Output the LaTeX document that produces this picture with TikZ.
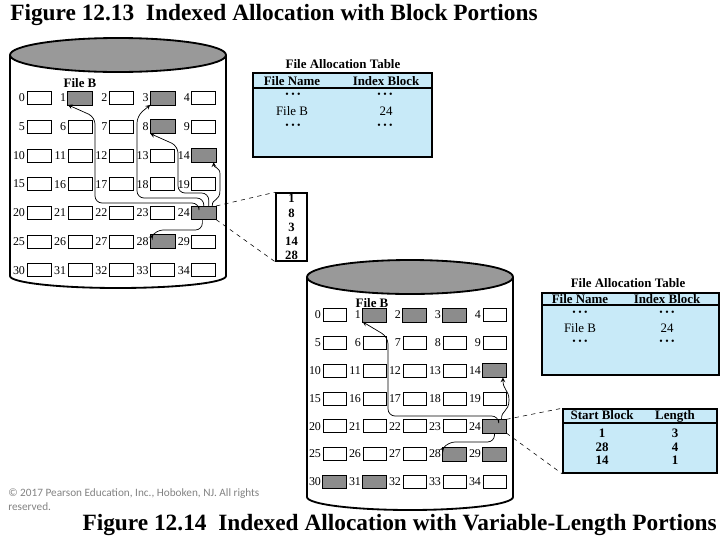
\documentclass[tikz,border=0pt]{standalone}
\usepackage{fontspec}
\setmainfont{Liberation Serif}
\newfontfamily\notefont{Carlito}
\usepackage{xcolor}
\usepackage{tikz}
\usetikzlibrary{arrows}

\definecolor{diskgray}{RGB}{153,153,153}
\definecolor{usedgray}{RGB}{140,140,140}
\definecolor{fatblue}{RGB}{200,234,248}
\definecolor{notegray}{RGB}{130,130,130}

\begin{document}
\begin{tikzpicture}[x=0.025cm, y=-0.025cm,
    side/.style={line width=1.3pt},
    blk/.style={draw, fill=white, line width=0.5pt, minimum width=0.6cm, minimum height=0.325cm, inner sep=0pt},
    blkb/.style={blk, minimum width=0.575cm},
    num/.style={font=\fontsize{8.5}{8.5}\selectfont, inner sep=1pt},
    used/.style={draw, line width=0.5pt, fill=usedgray},
    link/.style={->, >=stealth, line width=0.5pt, rounded corners=5pt},
    fat/.style={draw, line width=1.1pt, fill=fatblue},
    txt/.style={font=\fontsize{9.2}{10}\selectfont, inner sep=0pt, text height=1.5ex, text depth=.25ex},
    hdr/.style={txt, font=\fontsize{9.2}{10}\selectfont\bfseries},
    dots/.style={font=\fontsize{7}{7}\selectfont, inner sep=0pt},
    title/.style={font=\fontsize{16.6}{18}\selectfont\bfseries, inner sep=0pt}]
  \useasboundingbox (0,0) rectangle (720,540);

  % titles
  \node[title, anchor=west] (t13) at (10,15) {Figure 12.13\ \ Indexed Allocation with Block Portions};
  \node[title, anchor=east] (t14) at (717,525) {Figure 12.14\ \ Indexed Allocation with Variable-Length Portions};
  \node[font=\notefont\fontsize{8}{10}\selectfont, text=notegray, anchor=north west, align=left, inner sep=0pt] (copy) at (8,488)
    {© 2017 Pearson Education, Inc., Hoboken, NJ. All rights\\reserved.};

  % disk of figure 12.13
  \draw[side, fill=white] (10,55) -- (10,276) arc[start angle=180, end angle=0, x radius=108, y radius=12] -- (226,55);
  \draw[side, fill=diskgray] (118,55) ellipse[x radius=108, y radius=17];
  \node[hdr] (fileb) at (80,83) {File B};
  \foreach \n [evaluate=\n as \c using {int(mod(\n,5))}, evaluate=\n as \r using {int(\n/5)}] in {0,...,34}
    \node[blk, label={[num, label distance=0pt]left:\n}] (a\n) at ({39+41.2*\c},{98+28.7*\r}) {};
  \foreach \n in {1,3,8,14,24,28}
    \path[used] (a\n.south west) rectangle (a\n.north east);

  \draw[link] ([xshift=-3.4pt]a24.north) |- (95,203) -- (95,117) -- (a1.south west);
  \draw[link] (a24.north) |- (137,198) -- (137,116) -- (a3.south west);
  \draw[link] ([xshift=3.5pt]a24.north) |- (178,193) -- (178,146) -- (a8.south west);
  \draw[->, >=stealth, line width=0.5pt] ([xshift=6pt]a24.north) .. controls (212,198) and (220,202) .. (220,190)
    -- (220,174) .. controls (220,167) and (214,168) .. ([xshift=7pt]a14.south);
  \draw[link] ([xshift=-1pt]a24.south) |- (156,230) -- ([xshift=2pt]a28.north west);

  % index block
  \node[draw, fill=white, line width=1.1pt, minimum width=0.775cm, minimum height=1.7cm, inner sep=0pt,
    align=center, font=\fontsize{9}{10}\selectfont\bfseries] (idx) at (291.5,227) {1\\8\\3\\14\\28};
  \draw[dashed] (a24.north east) -- (idx.north west);
  \draw[dashed] (a24.south east) -- (idx.south west);

  % file allocation table, figure 12.13
  \node[hdr] (fat1t) at (343,64) {File Allocation Table};
  \node[fat, minimum width=4.475cm, minimum height=2.1cm] (fat1) at (342.5,115) {};
  \draw[line width=1.1pt] (253,88) -- (432,88);
  \node[hdr] (fat1a) at (292,81) {File Name};
  \node[hdr] (fat1b) at (386,81) {Index Block};
  \node[dots] (fat1c) at (293,95) {• • •};
  \node[dots] (fat1d) at (385,95) {• • •};
  \node[txt] (fat1e) at (292,111) {File B};
  \node[txt] (fat1f) at (386,111) {24};
  \node[dots] (fat1g) at (293,126) {• • •};
  \node[dots] (fat1h) at (385,126) {• • •};

  % disk of figure 12.14
  \draw[side, fill=white] (307,277) -- (307,497) arc[start angle=180, end angle=0, x radius=103, y radius=13] -- (513,277);
  \draw[side, fill=diskgray] (410,277) ellipse[x radius=103, y radius=17];
  \node[hdr] (fileb2) at (372,303) {File B};
  \foreach \n [evaluate=\n as \c using {int(mod(\n,5))}, evaluate=\n as \r using {int(\n/5)}] in {0,...,34}
    \node[blkb, label={[num, label distance=0pt]left:\n}] (b\n) at ({334.5+40*\c},{315+27.8*\r}) {};
  \foreach \n in {1,2,3,14,24,28,29,30,31}
    \path[used] (b\n.south west) rectangle (b\n.north east);

  \draw[link] ([xshift=3pt]b24.north) |- (388,416) -- (388,337) -- (b1.south west);
  \draw[->, >=stealth, line width=0.5pt] ([xshift=5pt]b24.north) .. controls (501,410) and (509,412) .. (509,400)
    .. controls (509,390) and (503,390) .. ([xshift=6pt]b14.south);
  \draw[link] (b24.south) |- (448,442) -- ([xshift=1pt]b28.north west);

  % start block / length table
  \node[fat, minimum width=3.85cm, minimum height=1.6cm] (run) at (640,441) {};
  \draw[line width=1.1pt] (563,423) -- (717,423);
  \node[hdr] (runa) at (602,415) {Start Block};
  \node[hdr] (runb) at (675,415) {Length};
  \node[hdr] (run1) at (602,433) {1};
  \node[hdr] (run2) at (675,433) {3};
  \node[hdr] (run3) at (602,447) {28};
  \node[hdr] (run4) at (675,447) {4};
  \node[hdr] (run5) at (602,460) {14};
  \node[hdr] (run6) at (675,460) {1};
  \draw[dashed] (b24.north east) -- (run.north west);
  \draw[dashed] (b24.south east) -- (run.south west);

  % file allocation table, figure 12.14
  \node[hdr] (fat2t) at (628,283) {File Allocation Table};
  \node[fat, minimum width=4.425cm, minimum height=2.05cm] (fat2) at (630.5,334) {};
  \draw[line width=1.1pt] (542,305) -- (719,305);
  \node[hdr] (fat2a) at (580,299) {File Name};
  \node[hdr] (fat2b) at (667,299) {Index Block};
  \node[dots] (fat2c) at (580,313) {• • •};
  \node[dots] (fat2d) at (667,313) {• • •};
  \node[txt] (fat2e) at (580,328) {File B};
  \node[txt] (fat2f) at (667,328) {24};
  \node[dots] (fat2g) at (580,342) {• • •};
  \node[dots] (fat2h) at (667,342) {• • •};
\end{tikzpicture}
\end{document}
